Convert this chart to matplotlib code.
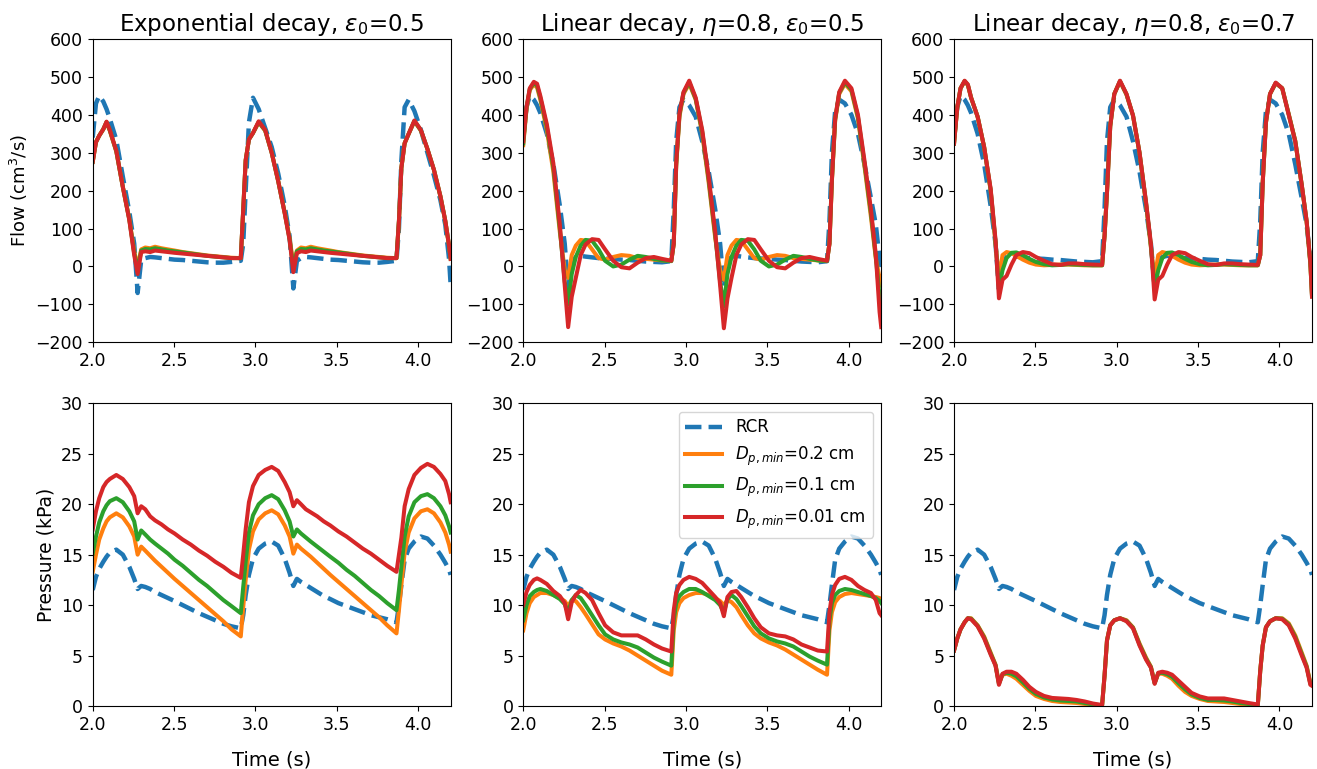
import numpy as np
import matplotlib.pyplot as plt

# time knots (s), shared by every curve
t = [2.000, 2.020, 2.040, 2.065, 2.085, 2.105, 2.145, 2.185, 2.225, 2.255, 2.276, 2.298, 2.323,
     2.353, 2.383, 2.423, 2.463, 2.503, 2.553, 2.603, 2.653, 2.703, 2.753, 2.803, 2.853, 2.910,
     2.925, 2.940, 2.960, 2.985, 3.020, 3.060, 3.100, 3.140, 3.180, 3.210, 3.233, 3.255, 3.280,
     3.310, 3.340, 3.380, 3.420, 3.460, 3.510, 3.560, 3.610, 3.660, 3.710, 3.760, 3.810, 3.867,
     3.882, 3.897, 3.917, 3.942, 3.977, 4.017, 4.057, 4.097, 4.137, 4.167, 4.190, 4.200]

# ---- flow (cm^3/s) ----
flow_rcr_exp = [340, 430, 450, 435, 415, 390, 334, 237, 144, 60, -70, 17, 22, 25, 24, 22, 20, 18, 17, 15, 13, 11, 10, 10, 12, 15,
                60, 200, 380, 445, 415, 365, 315, 245, 160, 80, -58, 15, 22, 25, 24, 22, 20, 18, 17, 15, 13, 11, 10, 10, 12, 15,
                100, 280, 420, 440, 410, 360, 300, 240, 175, 110, 20, -50]
flow_rcr = [340, 420, 450, 440, 425, 405, 350, 270, 160, 60, -60, 10, 25, 28, 26, 24, 22, 21, 20, 18, 17, 15, 13, 12, 11, 14,
            150, 330, 420, 440, 425, 395, 330, 250, 150, 60, -55, 10, 25, 28, 26, 24, 22, 21, 20, 18, 17, 15, 13, 12, 11, 14,
            120, 300, 410, 440, 430, 400, 350, 270, 180, 110, 20, -30]

flow_exp_02 = [276, 328, 345, 362, 380, 358, 303, 210, 125, 40, 0, 45, 50, 48, 52, 48, 45, 42, 38, 35, 32, 29, 27, 25, 23, 22,
               150, 280, 335, 352, 380, 358, 300, 225, 142, 75, 5, 42, 50, 48, 52, 48, 45, 42, 38, 35, 32, 29, 27, 25, 23, 22,
               120, 260, 325, 350, 383, 358, 310, 255, 185, 120, 55, 20]
flow_exp_01 = [276, 328, 345, 362, 381, 359, 304, 210, 124, 35, -10, 42, 46, 45, 48, 45, 42, 40, 37, 34, 31, 28, 26, 24, 22, 22,
               150, 280, 335, 352, 381, 359, 300, 225, 141, 72, -5, 40, 46, 45, 48, 45, 42, 40, 37, 34, 31, 28, 26, 24, 22, 22,
               120, 260, 325, 350, 384, 359, 310, 255, 185, 120, 55, 20]
flow_exp_001 = [276, 328, 345, 362, 382, 360, 305, 210, 122, 30, -20, 38, 40, 38, 42, 40, 38, 36, 34, 32, 30, 28, 26, 24, 22, 22,
                150, 280, 335, 352, 383, 360, 300, 225, 140, 70, -15, 35, 40, 38, 42, 40, 38, 36, 34, 32, 30, 28, 26, 24, 22, 22,
                120, 260, 325, 350, 385, 360, 310, 255, 185, 120, 55, 20]

flow_lin5_02 = [320, 415, 465, 480, 472, 440, 360, 250, 90, -10, -30, 30, 55, 70, 68, 45, 22, 18, 25, 30, 28, 22, 20, 18, 16, 15,
                60, 265, 395, 455, 482, 440, 350, 220, 75, -10, -35, 30, 55, 70, 68, 45, 22, 18, 25, 30, 28, 22, 20, 18, 16, 15,
                60, 225, 385, 455, 482, 462, 390, 265, 130, 20, -30, -50]
flow_lin5_01 = [325, 418, 468, 484, 477, 445, 368, 262, 100, -40, -100, -20, 25, 55, 70, 68, 45, 15, 0, 5, 18, 28, 25, 20, 16, 14,
                60, 268, 400, 458, 486, 442, 355, 228, 82, -40, -105, -20, 25, 55, 70, 68, 45, 15, 0, 5, 18, 28, 25, 20, 16, 14,
                60, 228, 388, 458, 486, 466, 395, 272, 140, 25, -80, -110]
flow_lin5_001 = [330, 420, 470, 487, 482, 450, 375, 272, 110, -50, -160, -80, -30, 30, 58, 72, 70, 45, 15, -2, -5, 10, 22, 25, 20, 15,
                 60, 272, 404, 460, 490, 445, 360, 235, 90, -50, -163, -85, -30, 30, 58, 72, 70, 45, 15, -2, -5, 10, 22, 25, 20, 15,
                 60, 230, 390, 460, 490, 470, 400, 280, 150, 30, -120, -160]

flow_lin7_02 = [324, 420, 470, 488, 478, 445, 395, 315, 200, 60, -30, 30, 38, 35, 28, 18, 10, 5, 3, 4, 5, 5, 4, 3, 3, 3,
                80, 195, 370, 455, 488, 453, 398, 300, 165, 50, -30, 30, 38, 35, 28, 18, 10, 5, 3, 4, 5, 5, 4, 3, 3, 3,
                30, 220, 380, 455, 483, 470, 402, 332, 215, 118, 5, -75]
flow_lin7_01 = [324, 420, 470, 489, 479, 445, 395, 315, 202, 65, -60, -10, 22, 36, 37, 30, 20, 12, 6, 3, 4, 6, 5, 4, 3, 3,
                80, 195, 370, 455, 489, 454, 398, 300, 168, 55, -60, -10, 22, 36, 37, 30, 20, 12, 6, 3, 4, 6, 5, 4, 3, 3,
                30, 220, 380, 455, 484, 470, 401, 331, 215, 119, 8, -78]
flow_lin7_001 = [324, 420, 470, 490, 480, 445, 395, 315, 205, 70, -84, -35, -25, 5, 30, 38, 35, 25, 15, 6, 4, 8, 8, 6, 5, 4,
                 80, 195, 370, 455, 490, 455, 398, 300, 170, 60, -87, -35, -25, 5, 30, 38, 35, 25, 15, 6, 4, 8, 8, 6, 5, 4,
                 30, 220, 380, 455, 485, 470, 400, 330, 215, 120, 10, -80]

# ---- pressure (kPa) ----
pres_rcr = [11.5, 12.8, 13.6, 14.3, 14.8, 15.2, 15.5, 15.0, 13.8, 12.6, 11.6, 11.9, 11.8, 11.6, 11.3, 11.0, 10.7, 10.4, 10.0, 9.6, 9.2, 8.85, 8.5, 8.15, 7.9, 7.7,
            9.0, 11.0, 13.0, 14.6, 15.6, 16.1, 16.3, 15.9, 14.6, 13.2, 11.9, 12.6, 12.3, 12.0, 11.7, 11.3, 10.9, 10.6, 10.2, 9.9, 9.6, 9.3, 9.0, 8.8, 8.6, 8.3,
            10.0, 12.0, 14.5, 15.6, 16.3, 16.8, 16.6, 15.9, 15.0, 14.2, 13.5, 13.0]

pres_exp_02 = [13.3, 15.0, 16.5, 17.6, 18.3, 18.7, 19.1, 18.7, 17.8, 16.8, 15.0, 15.8, 15.4, 14.9, 14.4, 13.8, 13.2, 12.6, 11.9, 11.2, 10.5, 9.8, 9.1, 8.4, 7.6, 6.9,
               9.8, 12.5, 15.5, 17.3, 18.5, 19.1, 19.4, 19.0, 17.9, 16.8, 15.1, 16.0, 15.6, 15.2, 14.8, 14.2, 13.6, 13.0, 12.3, 11.6, 10.9, 10.2, 9.5, 8.8, 8.0, 7.2,
               9.5, 12.0, 15.2, 17.2, 18.6, 19.3, 19.5, 19.1, 18.2, 17.2, 16.0, 15.3]
pres_exp_01 = [15.1, 16.8, 18.2, 19.3, 19.9, 20.3, 20.6, 20.2, 19.3, 18.3, 16.5, 17.4, 17.0, 16.5, 16.1, 15.6, 15.1, 14.5, 13.9, 13.2, 12.5, 11.9, 11.2, 10.5, 9.9, 9.2,
               11.8, 14.3, 17.2, 18.9, 20.0, 20.6, 20.9, 20.5, 19.4, 18.3, 16.8, 17.5, 17.1, 16.7, 16.3, 15.8, 15.3, 14.8, 14.2, 13.5, 12.9, 12.2, 11.5, 10.9, 10.2, 9.5,
               11.5, 13.8, 16.8, 18.8, 20.2, 20.8, 21.0, 20.6, 19.8, 18.9, 17.8, 17.2]
pres_exp_001 = [17.5, 19.3, 20.6, 21.7, 22.2, 22.5, 22.9, 22.5, 21.7, 20.8, 19.1, 19.8, 19.5, 18.8, 18.4, 18.0, 17.5, 17.1, 16.5, 16.0, 15.4, 14.9, 14.3, 13.8, 13.2, 12.7,
                15.0, 17.5, 20.2, 21.8, 22.9, 23.4, 23.7, 23.3, 22.2, 21.2, 19.8, 20.4, 20.0, 19.5, 19.2, 18.8, 18.3, 17.9, 17.3, 16.8, 16.2, 15.6, 15.1, 14.5, 13.9, 13.3,
                15.0, 16.7, 19.8, 21.5, 22.9, 23.6, 24.0, 23.7, 23.0, 22.3, 21.0, 20.2]

pres_lin5_02 = [7.5, 9.2, 10.2, 10.8, 11.0, 11.2, 11.2, 11.0, 10.7, 10.4, 9.9, 10.5, 10.4, 9.8, 9.1, 8.1, 7.1, 6.6, 6.2, 5.9, 5.5, 5.0, 4.5, 4.0, 3.5, 3.1,
                7.5, 9.3, 10.2, 10.7, 11.0, 11.2, 11.2, 11.0, 10.7, 10.4, 10.0, 10.5, 10.3, 9.8, 9.0, 8.0, 7.2, 6.7, 6.3, 6.0, 5.6, 5.1, 4.6, 4.1, 3.6, 3.1,
                7.5, 9.3, 10.3, 10.8, 11.1, 11.2, 11.1, 11.0, 10.9, 10.8, 10.7, 10.6]
pres_lin5_01 = [8.5, 10.0, 10.9, 11.3, 11.5, 11.6, 11.4, 11.0, 10.6, 10.1, 9.2, 10.5, 11.0, 10.7, 10.0, 9.0, 8.0, 7.1, 6.6, 6.3, 6.1, 5.8, 5.3, 4.8, 4.4, 4.0,
                8.5, 10.2, 10.9, 11.3, 11.6, 11.6, 11.3, 10.9, 10.5, 10.0, 9.3, 10.6, 11.0, 10.6, 9.9, 8.9, 7.9, 7.2, 6.7, 6.4, 6.2, 5.9, 5.4, 4.9, 4.5, 4.1,
                8.5, 10.2, 11.0, 11.4, 11.6, 11.5, 11.3, 11.1, 10.9, 10.7, 10.4, 10.2]
pres_lin5_001 = [10.0, 11.3, 12.0, 12.5, 12.65, 12.5, 12.1, 11.4, 10.9, 10.2, 8.6, 10.3, 11.0, 11.5, 11.2, 10.5, 9.2, 8.0, 7.3, 7.0, 7.0, 7.0, 6.6, 6.1, 5.7, 5.4,
                 9.5, 11.2, 12.0, 12.5, 12.8, 12.6, 12.2, 11.5, 10.8, 10.2, 8.9, 10.8, 11.3, 11.4, 10.8, 9.8, 8.7, 7.8, 7.2, 7.0, 6.9, 6.6, 6.1, 5.8, 5.5, 5.4,
                 9.3, 11.0, 12.0, 12.6, 12.8, 12.5, 11.9, 11.5, 11.2, 10.5, 9.2, 9.0]

pres_lin7_02 = [5.5, 6.7, 7.6, 8.3, 8.7, 8.7, 8.0, 6.9, 5.3, 4.1, 2.3, 3.1, 3.2, 3.0, 2.7, 2.1, 1.5, 1.0, 0.7, 0.5, 0.4, 0.35, 0.3, 0.2, 0.1, 0.05,
                3.0, 6.5, 8.0, 8.5, 8.7, 8.5, 7.8, 6.2, 4.8, 3.9, 2.3, 3.2, 3.2, 3.0, 2.7, 2.0, 1.4, 1.0, 0.7, 0.5, 0.45, 0.4, 0.3, 0.2, 0.1, 0.05,
                3.5, 6.0, 7.8, 8.4, 8.7, 8.7, 8.2, 7.0, 5.3, 4.0, 2.3, 2.2]
pres_lin7_01 = [5.5, 6.7, 7.6, 8.3, 8.7, 8.65, 7.95, 6.8, 5.2, 4.05, 2.2, 3.15, 3.3, 3.2, 2.95, 2.35, 1.7, 1.2, 0.85, 0.65, 0.55, 0.5, 0.45, 0.3, 0.15, 0.08,
                3.0, 6.5, 8.0, 8.5, 8.7, 8.45, 7.75, 6.1, 4.7, 3.85, 2.25, 3.25, 3.3, 3.15, 2.9, 2.25, 1.65, 1.15, 0.8, 0.6, 0.6, 0.55, 0.45, 0.3, 0.2, 0.1,
                3.5, 6.0, 7.8, 8.4, 8.7, 8.65, 8.1, 6.85, 5.15, 3.9, 2.2, 2.1]
pres_lin7_001 = [5.5, 6.7, 7.6, 8.3, 8.7, 8.6, 7.9, 6.7, 5.1, 4.0, 2.1, 3.2, 3.4, 3.4, 3.2, 2.6, 1.9, 1.4, 1.0, 0.8, 0.75, 0.7, 0.6, 0.45, 0.25, 0.1,
                 3.0, 6.5, 8.0, 8.5, 8.7, 8.4, 7.7, 6.0, 4.6, 3.8, 2.2, 3.3, 3.4, 3.3, 3.1, 2.5, 1.9, 1.3, 0.95, 0.75, 0.75, 0.75, 0.6, 0.45, 0.3, 0.15,
                 3.5, 6.0, 7.8, 8.4, 8.7, 8.6, 8.0, 6.7, 5.0, 3.8, 2.1, 2.0]

titles = [r'Exponential decay, $\varepsilon_0$=0.5',
          r'Linear decay, $\eta$=0.8, $\varepsilon_0$=0.5',
          r'Linear decay, $\eta$=0.8, $\varepsilon_0$=0.7']
labels = ['RCR', r'$D_{p,min}$=0.2 cm', r'$D_{p,min}$=0.1 cm', r'$D_{p,min}$=0.01 cm']
colors = ['#1f77b4', '#ff7f0e', '#2ca02c', '#d62728']

top = [(flow_rcr_exp, flow_exp_02, flow_exp_01, flow_exp_001),
       (flow_rcr, flow_lin5_02, flow_lin5_01, flow_lin5_001),
       (flow_rcr, flow_lin7_02, flow_lin7_01, flow_lin7_001)]
bottom = [(pres_rcr, pres_exp_02, pres_exp_01, pres_exp_001),
          (pres_rcr, pres_lin5_02, pres_lin5_01, pres_lin5_001),
          (pres_rcr, pres_lin7_02, pres_lin7_01, pres_lin7_001)]

fig = plt.figure(figsize=(13.17, 7.69), dpi=100)
lefts = [0.0704, 0.3973, 0.7244]
w = 0.2718

for i in range(3):
    for row, data in enumerate([top[i], bottom[i]]):
        if row == 0:
            ax = fig.add_axes([lefts[i], 0.5549, w, 0.3944])
        else:
            ax = fig.add_axes([lefts[i], 0.0819, w, 0.3936])
        for k in range(4):
            if k == 0:
                ax.plot(t, data[k], '--', color=colors[k], lw=3.2, label=labels[k])
            else:
                ax.plot(t, data[k], '-', color=colors[k], lw=2.9, label=labels[k])
        ax.set_xlim(2.0, 4.2)
        ax.set_xticks([2.0, 2.5, 3.0, 3.5, 4.0])
        ax.tick_params(labelsize=12.5)
        if row == 0:
            ax.set_ylim(-200, 600)
            ax.set_yticks(np.arange(-200, 601, 100))
            ax.set_title(titles[i], fontsize=16.5)
            if i == 0:
                ax.set_ylabel('Flow (cm$^3$/s)', fontsize=13)
        else:
            ax.set_ylim(0, 30)
            ax.set_yticks(np.arange(0, 31, 5))
            ax.set_xlabel('Time (s)', fontsize=14, labelpad=12)
            if i == 0:
                ax.set_ylabel('Pressure (kPa)', fontsize=13.5)
            if i == 1:
                ax.legend(loc='upper right', fontsize=12, handlelength=2.2)

fig.savefig('out.png', dpi=100)
